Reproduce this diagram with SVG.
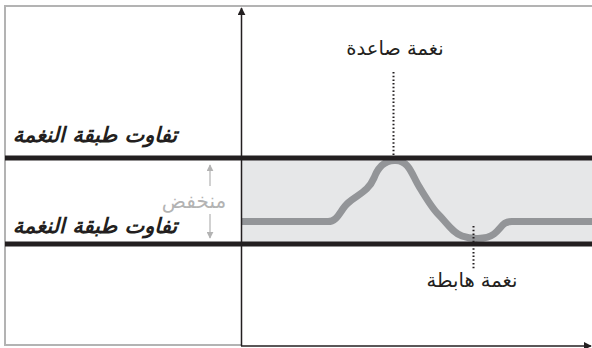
<svg xmlns="http://www.w3.org/2000/svg" width="592" height="348" viewBox="0 0 592 348">
<style>
.frame{stroke:#b3b3b3;stroke-width:2;fill:none}
.axis{stroke:#231f20;stroke-width:1.5;fill:none}
.band{stroke:#231f20;stroke-width:5}
.dots{stroke:#231f20;stroke-width:2;stroke-dasharray:1.5 2.2;fill:none}
.lbl{font-family:"DejaVu Sans","Noto Sans",sans-serif;font-size:19.5px;fill:#231f20}
.big{font-family:"DejaVu Sans","Noto Sans",sans-serif;font-size:21px;font-weight:bold;font-style:italic;fill:#231f20}
.low{font-family:"DejaVu Sans","Noto Sans",sans-serif;font-size:20px;fill:#b3b3b3}
.garr{stroke:#b3b3b3;stroke-width:1.2;fill:none}
</style>
<defs>
<marker id="ah" viewBox="0 0 10 10" refX="9" refY="5" markerWidth="8" markerHeight="8" markerUnits="userSpaceOnUse" orient="auto"><path d="M0,0 L10,5 L0,10 z" fill="#231f20"/></marker>
<marker id="gah" viewBox="0 0 10 10" refX="9" refY="5" markerWidth="7" markerHeight="7" markerUnits="userSpaceOnUse" orient="auto"><path d="M0,0 L10,5 L0,10 z" fill="#b3b3b3"/></marker>
</defs>
<rect width="592" height="348" fill="#fff"/>
<g id="frame">
<polyline class="frame" points="592,6 5,6 5,345 241,345"/>
</g>
<g id="band">
<rect x="241" y="160" width="351" height="83" fill="#e6e7e8"/>
</g>
<g id="curve">
<path d="M241,221.5 L328,221.5 C338,221.5 340,210 348,203 C358,194 368,192 374,178 C380,162 390,160 396,160.5 C410,161 412,176 420,188 C426,198 432,208 438,214 C448,224 452,232 462,236 C470,239 486,240 494,234 C502,228 502,221.5 512,221.5 L592,221.5" stroke="#939598" stroke-width="7" fill="none" stroke-linejoin="round"/>
</g>
<g id="lines">
<line class="band" x1="5" y1="158" x2="592" y2="158"/>
<line class="band" x1="5" y1="244" x2="592" y2="244"/>
</g>
<g id="axes">
<line class="axis" x1="241.5" y1="346" x2="241.5" y2="8" marker-end="url(#ah)"/>
<line class="axis" x1="241" y1="346" x2="591" y2="346" marker-end="url(#ah)"/>
</g>
<g id="connectors">
<line class="dots" x1="393.5" y1="72" x2="393.5" y2="156"/>
<line class="dots" x1="473.5" y1="226" x2="473.5" y2="270"/>
<line class="garr" x1="210" y1="186" x2="210" y2="165" marker-end="url(#gah)"/>
<line class="garr" x1="210" y1="214" x2="210" y2="238" marker-end="url(#gah)"/>
</g>
<g id="labels">
<text class="lbl" x="395" y="55" text-anchor="middle" direction="rtl">نغمة صاعدة</text>
<text class="lbl" x="472" y="287" text-anchor="middle" direction="rtl">نغمة هابطة</text>
<text class="big" x="95" y="142" text-anchor="middle" direction="rtl">تفاوت طبقة النغمة</text>
<text class="big" x="95" y="233" text-anchor="middle" direction="rtl">تفاوت طبقة النغمة</text>
<text class="low" x="194" y="208" text-anchor="middle" direction="rtl">منخفض</text>
</g>
</svg>
